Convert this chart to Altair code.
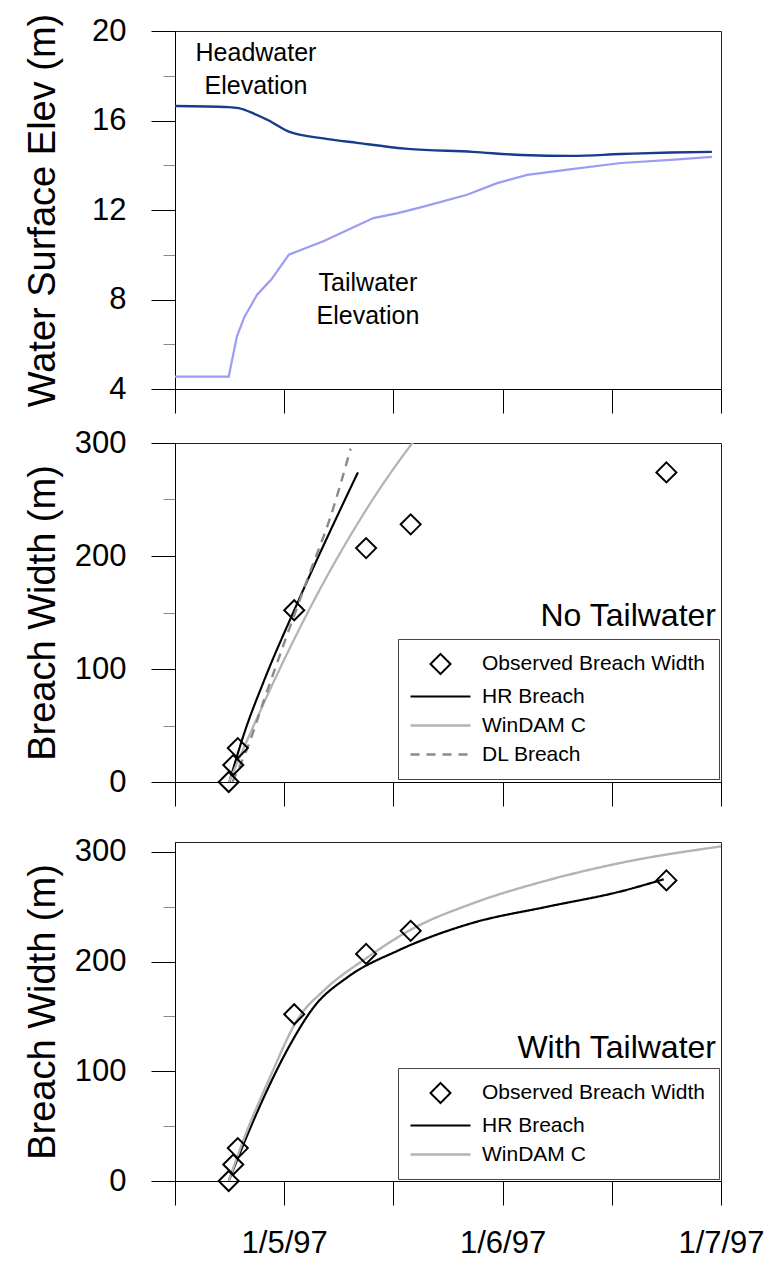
import altair as alt
import pandas as pd

# ---------------- data ----------------
# time axis: hours after 1/4/97 12:00
x_tick_hours = [0, 12, 24, 36, 48, 60]
x_tick_labels = ["", "1/5/97", "", "1/6/97", "", "1/7/97"]

# panel 1: water surface elevations (m)
hw_hours = [0, 5.9, 7.0, 8.7, 10.3, 12.5, 16.3, 20.0, 25.6, 32.7, 38.1, 43.6, 49.0, 54.5, 59.0]
hw_elev = [16.65, 16.6, 16.55, 16.3, 16.0, 15.5, 15.2, 15.0, 14.73, 14.6, 14.46, 14.42, 14.5, 14.57, 14.6]
tw_hours = [0, 5.9, 6.8, 7.6, 9.0, 10.6, 12.5, 16.3, 21.8, 24.5, 27.2, 32.1, 35.4, 38.7, 43.6, 49.0, 54.5, 59.0]
tw_elev = [4.55, 4.55, 6.34, 7.2, 8.2, 8.9, 10.0, 10.6, 11.64, 11.86, 12.14, 12.68, 13.2, 13.57, 13.83, 14.1, 14.24, 14.37]
elev_major = [4, 8, 12, 16, 20]
elev_minor = [6, 10, 14, 18]
ann1_text = ["Headwater", "Elevation", "Tailwater", "Elevation"]
ann1_hours = [8.9, 8.9, 21.2, 21.2]
ann1_elev = [19.0, 17.55, 8.75, 7.28]

# observed breach width (m)
obs_hours = [5.9, 6.4, 6.9, 13.1, 21.0, 25.9, 54.0]
obs_width = [0, 15, 30, 152, 207, 228, 274]

# panel 2: no tailwater
hr_nt_hours = [5.97, 7.6, 9.8, 13.1, 20.1]
hr_nt_width = [0, 43, 90, 152, 274]
wd_nt_hours = [5.93, 8.35, 11.1, 13.85, 16.59, 19.34, 22.09, 24.84, 26.26]
wd_nt_width = [0, 44.6, 93.1, 138.4, 180.4, 219, 254.5, 286.5, 301.8]
dl_nt_hours = [6.3, 8.0, 9.8, 12.4, 14.8, 17.1, 19.3]
dl_nt_width = [0, 31, 73, 132, 185, 235, 295]

# panel 3: with tailwater
hr_wt_hours = [5.9, 7.6, 9.8, 12.5, 15.3, 19.0, 24.5, 32.6, 40.9, 49.0, 53.7]
hr_wt_width = [0, 35, 77, 122, 159, 186, 210, 235, 250, 264, 275]
wd_wt_hours = [5.9, 7.6, 10.3, 13.6, 16.4, 21.0, 25.9, 32.7, 40.9, 49.0, 60.0]
wd_wt_width = [0, 39, 92, 149, 174, 203, 229, 253, 274, 290, 305]

width_major = [0, 100, 200, 300]
width_minor = [50, 150, 250]

series_names = ["Observed Breach Width", "HR Breach", "WinDAM C", "DL Breach"]
series_colors = ["black", "black", "#b4b4b4", "#8a8a8a"]
series_widths = [2, 2.4, 2, 2]

# ---------------- styling helpers ----------------
FONT = "Liberation Sans"
W = 546
DIAMOND = "M0,-1L1,0L0,1L-1,0Z"
LEGEND_LINE = "M-3,0L3,0"


def x_label_expr():
    expr = "''"
    for h, lab in reversed(list(zip(x_tick_hours, x_tick_labels))):
        expr = f"datum.value == {h} ? '{lab}' : ({expr})"
    return expr


def x_axis(labels):
    kw = dict(values=x_tick_hours, tickSize=24, title=None, grid=False,
              labelFlush=False, labelOverlap=False, labelPadding=23)
    if labels:
        kw["labelExpr"] = x_label_expr()
    else:
        kw["labels"] = False
    return alt.Axis(**kw)


def y_axis(major, minor, title):
    test = f"indexof({major}, datum.value) >= 0"
    return alt.Axis(
        values=sorted(major + minor),
        labelExpr=f"{test} ? datum.label : ''",
        tickSize={"condition": {"test": test, "value": 24}, "value": 12},
        tickColor={"condition": {"test": test, "value": "black"}, "value": "#888888"},
        title=title, titleX=-132, titleBaseline="middle", titleAngle=-90,
        labelFlush=False, labelOverlap=False, labelPadding=25, grid=False,
    )


xs = alt.Scale(domain=[0, 60], nice=False, zero=False)

# ---------------- panel 1 ----------------
hw = pd.DataFrame({"h": hw_hours, "v": hw_elev})
tw = pd.DataFrame({"h": tw_hours, "v": tw_elev})
ann1 = pd.DataFrame({"h": ann1_hours, "v": ann1_elev, "t": ann1_text})
ys1 = alt.Scale(domain=[4, 20], nice=False, zero=False)

base_x1 = alt.X("h:Q", scale=xs, axis=x_axis(False))
tw_line = alt.Chart(tw).mark_line(color="#9b9cf2", strokeWidth=2.2).encode(
    x=base_x1, y=alt.Y("v:Q", scale=ys1, axis=y_axis(elev_major, elev_minor, "Water Surface Elev (m)")))
hw_line = alt.Chart(hw).mark_line(color="#173c8e", strokeWidth=2.4, interpolate="monotone").encode(
    x="h:Q", y="v:Q")
ann1_marks = alt.Chart(ann1).mark_text(font=FONT, fontSize=25, color="black",
                                       align="center", baseline="middle").encode(
    x="h:Q", y="v:Q", text="t:N")
panel1 = alt.layer(tw_line, hw_line, ann1_marks).properties(width=W, height=358)


# ---------------- breach width panels ----------------
def breach_panel(curves, label_text, label_v, ydom, legend_y, height, xlabels):
    names = series_names[:1] + [c[0] for c in curves]
    colors = [series_colors[series_names.index(n)] for n in names]
    shapes = [DIAMOND] + [LEGEND_LINE] * len(curves)
    dashes = [[1, 0]] + [[9, 7] if n == "DL Breach" else [1, 0] for n in names[1:]]
    widths = [series_widths[series_names.index(n)] for n in names]
    leg = alt.Legend(title=None, orient="none", legendX=223, legendY=legend_y,
                     padding=14, strokeColor="#444444", fillColor="white",
                     labelFont=FONT, labelFontSize=21, labelColor="black",
                     symbolSize=400, symbolStrokeWidth=2.2, symbolOffset=17,
                     labelOffset=30, rowPadding=7, labelLimit=400,
                     symbolFillColor="transparent")
    color = alt.Color("s:N", scale=alt.Scale(domain=names, range=colors), legend=leg)
    shape = alt.Shape("s:N", scale=alt.Scale(domain=names, range=shapes), legend=leg)
    dash = alt.StrokeDash("s:N", scale=alt.Scale(domain=names, range=dashes), legend=leg)
    sw = alt.StrokeWidth("s:N", scale=alt.Scale(domain=names, range=widths), legend=None)

    rows = []
    for name, hrs, vals in curves:
        for i, (h, v) in enumerate(zip(hrs, vals)):
            rows.append({"s": name, "h": h, "v": v, "o": i})
    lines = pd.DataFrame(rows)
    obs = pd.DataFrame({"s": series_names[0], "h": obs_hours, "v": obs_width})
    lab = pd.DataFrame({"h": [59.45], "v": [label_v], "t": [label_text]})

    ys = alt.Scale(domain=ydom, nice=False, zero=False)
    x = alt.X("h:Q", scale=xs, axis=x_axis(xlabels))
    y = alt.Y("v:Q", scale=ys, axis=y_axis(width_major, width_minor, "Breach Width (m)"))
    line_layer = alt.Chart(lines).mark_line(clip=True, interpolate="monotone").encode(
        x=x, y=y, color=color, strokeDash=dash, strokeWidth=sw, order="o:Q")
    pt_layer = alt.Chart(obs).mark_point(filled=False, size=400, strokeWidth=2, opacity=1).encode(
        x="h:Q", y="v:Q", color=color, shape=shape)
    txt = alt.Chart(lab).mark_text(font=FONT, fontSize=32, color="black",
                                   align="right", baseline="middle").encode(
        x="h:Q", y="v:Q", text="t:N")
    return alt.layer(line_layer, pt_layer, txt).properties(width=W, height=height)


panel2 = breach_panel(
    [("HR Breach", hr_nt_hours, hr_nt_width),
     ("WinDAM C", wd_nt_hours, wd_nt_width),
     ("DL Breach", dl_nt_hours, dl_nt_width)],
    "No Tailwater", 147, [0, 300], 196, 339, False)
panel3 = breach_panel(
    [("HR Breach", hr_wt_hours, hr_wt_width),
     ("WinDAM C", wd_wt_hours, wd_wt_width)],
    "With Tailwater", 121, [0, 309], 226, 339, True)

res = dict(color="independent", shape="independent", strokeDash="independent",
           strokeWidth="independent", y="independent")
lower = alt.vconcat(panel2, panel3, spacing=60, bounds="flush").resolve_scale(**res)

chart = alt.vconcat(panel1, lower, spacing=54, bounds="flush").resolve_scale(
    **res
).properties(
    padding={"left": 15, "top": 4, "right": 0, "bottom": 0},
    background="white",
).configure_view(
    stroke="#222222", strokeWidth=1
).configure_axis(
    domainColor="black", tickColor="black", labelColor="black", titleColor="black",
    labelFont=FONT, labelFontSize=31, titleFont=FONT, titleFontSize=38,
    titleFontWeight="normal", tickWidth=1, domainWidth=1,
)

chart.save("out.html", embed_options={"renderer": "svg", "actions": False})
